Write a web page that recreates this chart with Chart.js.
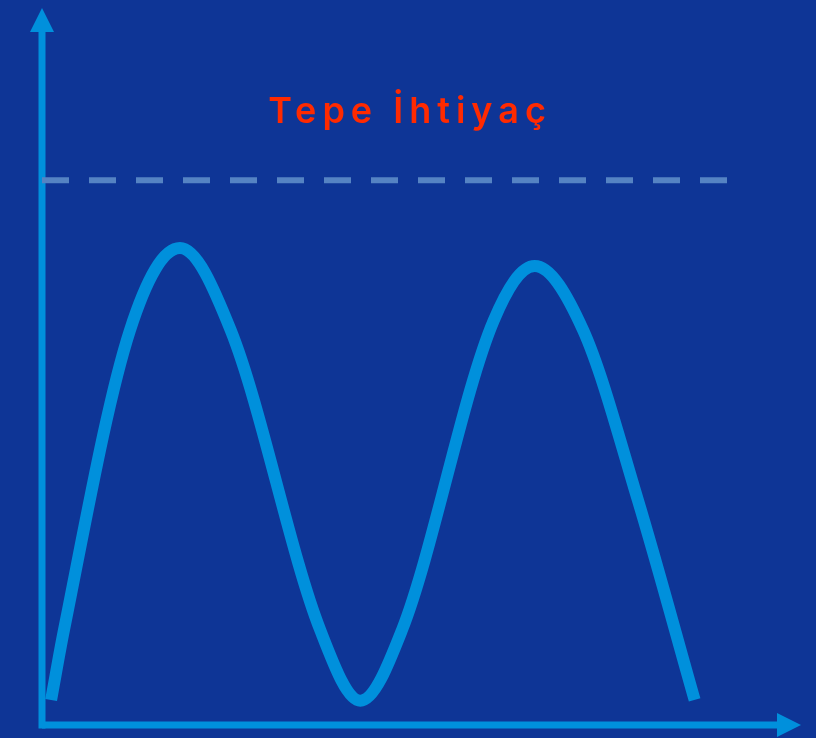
<!DOCTYPE html>
<html>
<head>
<meta charset="utf-8">
<script src="https://cdn.jsdelivr.net/npm/chart.js@4/dist/chart.umd.min.js"></script>
<style>
	html, body { margin: 0; padding: 0; background: #0e3596; }
	canvas { display: block; }
</style>
</head>
<body>
<canvas id="demandChart" width="816" height="738"></canvas>
<script>
// time along the x axis (% of period) and demand level (% of scale)
const timeValues = [1.2, 2.9, 11.6, 18.2, 24.9, 36.7, 42.0, 47.5, 59.6, 65.0, 71.4, 78.6, 86.1];
const demandValues = [3.5, 13.3, 55.2, 66.7, 55.2, 13.3, 3.4, 13.3, 56.6, 64.2, 55.2, 31.5, 3.5];
const peakLevel = 76.2;
const peakRange = [0, 90.5];
const peakLabel = 'Tepe İhtiyaç';

const BG = '#0e3596';
const LINE = '#0090dc';

const axisArrows = {
	id: 'axisArrows',
	beforeDraw(chart) {
		const { ctx, width, height } = chart;
		ctx.save();
		ctx.fillStyle = BG;
		ctx.fillRect(0, 0, width, height);
		ctx.restore();
	},
	beforeDatasetsDraw(chart) {
		const { ctx, chartArea } = chart;
		const x0 = chartArea.left;
		const y0 = chartArea.bottom;
		ctx.save();
		ctx.fillStyle = LINE;
		// y axis
		ctx.fillRect(x0 - 3.5, 30, 7, y0 + 3.5 - 30);
		ctx.beginPath();
		ctx.moveTo(x0 - 12, 32);
		ctx.lineTo(x0 + 12, 32);
		ctx.lineTo(x0, 8);
		ctx.closePath();
		ctx.fill();
		// x axis
		ctx.fillRect(x0, y0 - 3.5, 777 - x0 + 2, 7);
		ctx.beginPath();
		ctx.moveTo(777, y0 - 12);
		ctx.lineTo(777, y0 + 12);
		ctx.lineTo(801, y0);
		ctx.closePath();
		ctx.fill();
		ctx.restore();
	},
	afterDatasetsDraw(chart) {
		const { ctx } = chart;
		const y = chart.scales.y.getPixelForValue(peakLevel) - 57;
		ctx.save();
		ctx.font = '600 36px Inter, "Noto Sans", sans-serif';
		ctx.fillStyle = '#ff2a00';
		ctx.textAlign = 'center';
		ctx.textBaseline = 'alphabetic';
		ctx.letterSpacing = '6px';
		ctx.fillText(peakLabel, chart.width / 2 + 2, y);
		ctx.restore();
	},
};

// eslint-disable-next-line no-new
new Chart(document.getElementById('demandChart').getContext('2d'), {
	type: 'line',
	data: {
		datasets: [
			{
				label: 'Tepe',
				data: peakRange.map((x) => ({ x, y: peakLevel })),
				borderColor: '#5583c3',
				borderWidth: 6,
				borderDash: [27, 20],
				borderCapStyle: 'butt',
				pointRadius: 0,
			},
			{
				label: 'İhtiyaç',
				data: timeValues.map((x, i) => ({ x, y: demandValues[i] })),
				borderColor: LINE,
				borderWidth: 12,
				borderCapStyle: 'butt',
				cubicInterpolationMode: 'monotone',
				pointRadius: 0,
			},
		],
	},
	options: {
		responsive: false,
		animation: false,
		layout: { padding: { left: 42, right: 16, top: 10, bottom: 13 } },
		plugins: { legend: { display: false }, tooltip: { enabled: false } },
		scales: {
			x: { type: 'linear', min: 0, max: 100, display: false },
			y: { min: 0, max: 100, display: false },
		},
	},
	plugins: [axisArrows],
});
</script>
</body>
</html>
